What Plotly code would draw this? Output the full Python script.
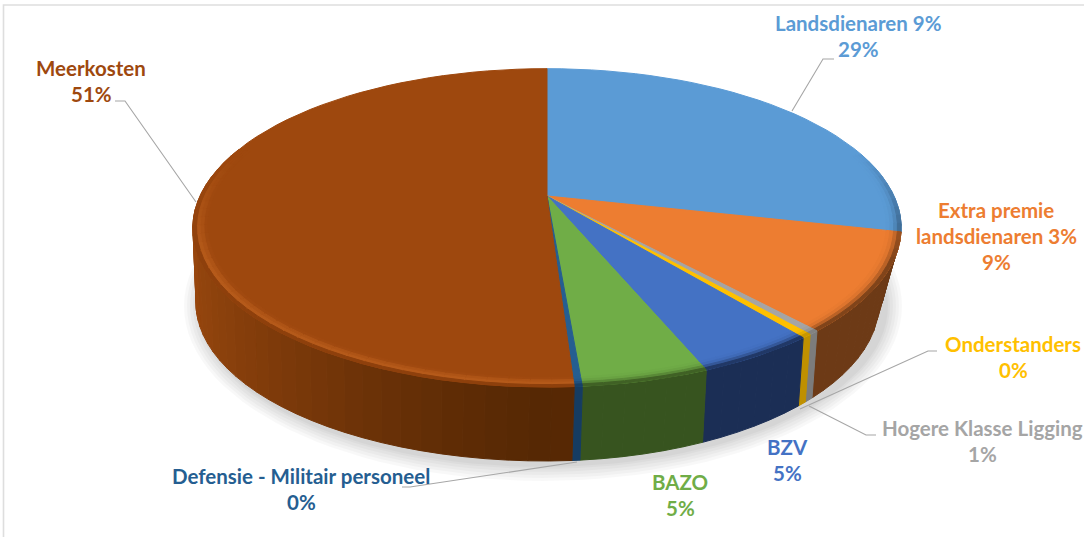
import math
import plotly.graph_objects as go

# ---- data (drawn share of the pie, clockwise from 12 o'clock)
series = ["Landsdienaren 9%", "Extra premie landsdienaren 3%", "Hogere Klasse Ligging",
          "Onderstanders", "BZV", "BAZO", "Defensie - Militair personeel", "Meerkosten"]
shares = [28.6, 9.9, 0.4, 0.4, 4.6, 4.8, 0.3, 51.0]
top_colors = ["#5B9BD5", "#ED7D31", "#A5A5A5", "#FFC000", "#4472C4", "#70AD47", "#255E91", "#9E480E"]
wall_colors = ["#2F5070", "#6D3A16", "#7C7C7C", "#BF9000", "#1B2E55", "#37541F", "#153C62", "#5A2A05"]

label_lines = [["Landsdienaren 9%", "29%"], ["Extra premie", "landsdienaren 3%", "9%"],
               ["Hogere Klasse Ligging", "1%"], ["Onderstanders", "0%"], ["BZV", "5%"],
               ["BAZO", "5%"], ["Defensie - Militair personeel", "0%"], ["Meerkosten", "51%"]]
label_x = [858, 996, 982, 1013, 787, 680, 301, 91]
label_y = [23, 210, 428, 344, 447, 482, 476, 68]
line_step = 26

leaders = [([792, 823, 834], [111, 59, 59]), ([809, 866, 876], [406, 435, 435]),
           ([800, 928, 937], [409, 351, 351]), ([577, 410, 402], [462, 487, 487]),
           ([196, 125, 115], [202, 101, 101])]

# ---- projection of the tilted disc
CX, CY, R, B, P = 547.0, 196.0, 347.0, 152.8, 0.2


def rim(theta, k=1.0):
    t = math.radians(theta)
    c, s = math.sin(t), -math.cos(t)
    d = 1 - P * k * s
    return CX + R * k * c / d, CY + B * k * s / d


def floor_pt(theta):
    x, _ = rim(theta)
    dx = x - 547
    if dx >= 0:
        xb = x - (2 + 3 * dx / 271 + 13 * max(0.0, (dx - 271) / 83))
        u = min(1.0, (xb - 545) / 334)
    else:
        xb = 545 + dx * 0.985
        u = min(1.0, (545 - xb) / 349)
    return xb, 303 + 158 * math.sqrt(1 - u * u)


def rgb(h):
    return tuple(int(h[i:i + 2], 16) for i in (1, 3, 5))


def mix(a, b, w):
    a, b = rgb(a), rgb(b)
    return "#%02x%02x%02x" % tuple(round(a[i] + (b[i] - a[i]) * w) for i in range(3))


fig = go.Figure()


def poly(xs, ys, color):
    fig.add_trace(go.Scatter(x=xs + xs[:1], y=ys + ys[:1], mode="lines", fill="toself", fillcolor=color,
                             line=dict(color=color, width=1), hoverinfo="skip", showlegend=False))


# frame
fig.add_trace(go.Scatter(x=[3.5, 3.5, 1084], y=[537, 5, 5], mode="lines",
                         line=dict(color="#dedede", width=1.6), hoverinfo="skip", showlegend=False))

# soft glow under the disc
for d in [17, 14, 11, 8, 5, 3]:
    n = 120
    xs = [543 + (342 + d) * math.cos(2 * math.pi * i / n) for i in range(n)]
    ys = [306 + (158 + d) * math.sin(2 * math.pi * i / n) for i in range(n)]
    fig.add_trace(go.Scatter(x=xs + xs[:1], y=ys + ys[:1], mode="lines", fill="toself",
                             fillcolor="rgba(0,0,0,0.028)", line=dict(width=0),
                             hoverinfo="skip", showlegend=False))

total = sum(shares)
edges = [0.0]
for v in shares:
    edges.append(edges[-1] + 360 * v / total)


def steps(a, b, size=3.0):
    n = max(1, math.ceil((b - a) / size))
    return [a + (b - a) * i / n for i in range(n + 1)]


# walls
for i in range(len(shares)):
    a, b = max(edges[i], 95.0), min(edges[i + 1], 265.0)
    if b <= a:
        continue
    th = steps(a, b)
    for t0, t1 in zip(th[:-1], th[1:]):
        p0, p1, q1, q0 = rim(t0), rim(t1), floor_pt(t1), floor_pt(t0)
        col = wall_colors[i]
        if series[i] == "Meerkosten":
            u = abs(math.sin(math.radians((t0 + t1) / 2)))
            col = mix("#562804", "#99470E", min(1, u ** 1.3))
        poly([p0[0], p1[0], q1[0], q0[0]], [p0[1], p1[1], q1[1], q0[1]], col)

# top faces
for i in range(len(shares)):
    th = steps(edges[i], edges[i + 1])
    pts = [rim(t) for t in th]
    poly([CX] + [p[0] for p in pts], [CY] + [p[1] for p in pts], top_colors[i])

# bevel along the near edge
bands = [0.96, 0.97, 0.98, 0.99, 1.0]
weights = [0.03, 0.12, 0.4, 0.85]
brown_bevel = ["#A14A10", "#AE5416", "#B55A1A", "#8E400C"]
for i in range(len(shares)):
    th = steps(edges[i], edges[i + 1])
    for t0, t1 in zip(th[:-1], th[1:]):
        s = -math.cos(math.radians((t0 + t1) / 2))
        w = max(0.0, min(1.0, (s + 0.3) / 0.7))
        if w <= 0:
            continue
        for j in range(4):
            k0, k1 = bands[j], bands[j + 1]
            if series[i] == "Meerkosten":
                col = mix(top_colors[i], brown_bevel[j], w)
            else:
                col = mix(top_colors[i], wall_colors[i], w * weights[j])
            a0, a1, b1, b0 = rim(t0, k0), rim(t1, k0), rim(t1, k1), rim(t0, k1)
            poly([a0[0], a1[0], b1[0], b0[0]], [a0[1], a1[1], b1[1], b0[1]], col)

# leader lines
for xs, ys in leaders:
    fig.add_trace(go.Scatter(x=xs, y=ys, mode="lines", line=dict(color="#a6a6a6", width=1.1),
                             hoverinfo="skip", showlegend=False))

# labels
for i, lines in enumerate(label_lines):
    for j, txt in enumerate(lines):
        fig.add_annotation(x=label_x[i], y=label_y[i] + j * line_step, text=txt, showarrow=False,
                           xanchor="center", yanchor="middle",
                           font=dict(family="Lato", size=20.5, color=top_colors[i], weight="bold"))

fig.update_layout(width=1084, height=537, margin=dict(l=0, r=0, t=0, b=0),
                  paper_bgcolor="white", plot_bgcolor="white", showlegend=False,
                  xaxis=dict(range=[0, 1084], visible=False, fixedrange=True),
                  yaxis=dict(range=[537, 0], visible=False, fixedrange=True))
fig.write_html("out.html", config={"displayModeBar": False},
               post_script="document.body.style.margin='0';document.body.style.overflow='hidden';")
